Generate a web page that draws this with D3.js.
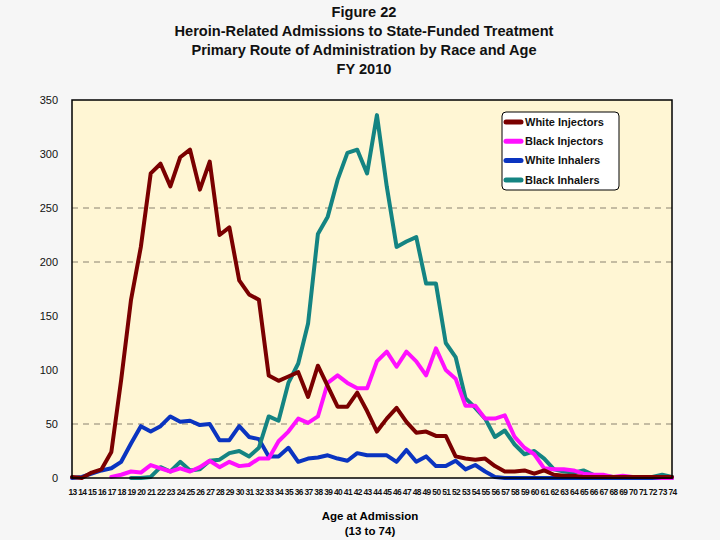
<!DOCTYPE html>
<html>
<head>
<meta charset="utf-8">
<script src="https://cdn.jsdelivr.net/npm/d3@7"></script>
<style>
  body { margin: 0; background: #f6f6f6; }
  svg { display: block; font-family: "Liberation Sans", Arial, sans-serif; }
</style>
</head>
<body>
<svg id="chart" width="720" height="540"></svg>
<script>
// data, ages 13..74
const ages = d3.range(13, 75);
const titleLines = ["Figure 22",
    "Heroin-Related Admissions to State-Funded Treatment",
    "Primary Route of Administration by Race and Age",
    "FY 2010"];
const seriesNames = ["White Injectors", "Black Injectors", "White Inhalers", "Black Inhalers"];
const seriesColors = ["#7a0000", "#ff10ff", "#0a34c0", "#148482"];
const yTicks = [0, 50, 100, 150, 200, 250, 300, 350];
const gridValues = [50, 200, 250];

const whiteInjectors = [1, 0, 5, 8, 24, 91, 165, 214, 282, 291, 270, 297, 304, 267, 293, 225, 232, 183, 170, 165,
    95, 90, 94, 98, 75, 104, 85, 66, 66, 79, 62, 43, 55, 65, 52, 42, 43, 39, 39, 20,
    18, 17, 18, 11, 6, 6, 7, 4, 7, 3, 2, 2, 1, 1, 1, 1, 1, 1, 1, 1, 1, 1];
const blackInjectors = [null, null, null, null, 1, 3, 6, 5, 12, 9, 6, 9, 6, 10, 16, 10, 15, 11, 12, 18,
    18, 34, 43, 55, 51, 57, 88, 95, 88, 83, 83, 108, 117, 103, 117, 108, 95, 120, 100, 92,
    67, 67, 55, 55, 58, 38, 28, 22, 9, 8, 8, 7, 4, 3, 3, 1, 2, 1, 1, 1, 0, 0];
const whiteInhalers = [0, 1, 4, 7, 9, 15, 32, 48, 43, 48, 57, 52, 53, 49, 50, 35, 35, 48, 38, 36,
    20, 20, 28, 15, 18, 19, 21, 18, 16, 23, 21, 21, 21, 15, 26, 15, 20, 11, 11, 16,
    8, 12, 6, 1, 0, 0, 0, 0, 0, 0, 0, 0, 0, 0, 0, 0, 0, 0, 0, 0, 0, 0];
const blackInhalers = [null, null, null, null, null, null, 0, 0, 1, 10, 6, 15, 7, 8, 16, 17, 23, 25, 20, 28,
    57, 53, 88, 106, 143, 226, 242, 276, 301, 304, 282, 336, 270, 214, 219, 223, 180, 180, 125, 112,
    74, 65, 55, 38, 44, 31, 22, 25, 18, 8, 6, 5, 7, 3, 2, 1, 1, 1, 1, 1, 3, 1];

const seriesValues = [whiteInjectors, blackInjectors, whiteInhalers, blackInhalers];

const margin = { top: 100, left: 72, bottom: 62, right: 48 };
const width = 720, height = 540;

const svg = d3.select("#chart");

const x = d3.scalePoint()
    .domain(ages)
    .range([margin.left, width - margin.right]);

const y = d3.scaleLinear()
    .domain([0, 350])
    .range([height - margin.bottom, margin.top]);

// title
svg.append("g")
    .selectAll("text")
    .data(titleLines)
    .join("text")
    .attr("x", 364)
    .attr("y", (d, i) => 17 + i * 19)
    .attr("text-anchor", "middle")
    .attr("font-size", 14.6)
    .attr("font-weight", "bold")
    .attr("fill", "#111")
    .text(d => d);

// plot area
svg.append("rect")
    .attr("x", margin.left)
    .attr("y", margin.top)
    .attr("width", width - margin.left - margin.right)
    .attr("height", height - margin.top - margin.bottom)
    .attr("fill", "#fff6d4");

svg.append("g")
    .selectAll("line")
    .data(gridValues)
    .join("line")
    .attr("x1", margin.left)
    .attr("x2", width - margin.right)
    .attr("y1", d => y(d))
    .attr("y2", d => y(d))
    .attr("stroke", "#8a8270")
    .attr("stroke-width", 1)
    .attr("stroke-dasharray", "6,5");

// y axis
const yAxis = d3.axisLeft(y).tickValues(yTicks).tickSize(0).tickPadding(14);
svg.append("g")
    .attr("transform", `translate(${margin.left},0)`)
    .call(yAxis)
    .call(g => g.select(".domain").remove())
    .selectAll("text")
    .attr("font-size", 11)
    .attr("font-family", "Liberation Sans, Arial, sans-serif")
    .attr("fill", "#111");

// x axis labels
const xAxis = d3.axisBottom(x).tickSize(0).tickPadding(11);
svg.append("g")
    .attr("transform", `translate(0,${height - margin.bottom})`)
    .call(xAxis)
    .call(g => g.select(".domain").remove())
    .selectAll("text")
    .attr("font-size", 8.4)
    .attr("font-weight", "bold")
    .attr("letter-spacing", -0.6)
    .attr("font-family", "Liberation Sans, Arial, sans-serif")
    .attr("fill", "#111");

svg.append("text")
    .attr("x", 370)
    .attr("y", 520)
    .attr("text-anchor", "middle")
    .attr("font-size", 11.5)
    .attr("font-weight", "bold")
    .text("Age at Admission");
svg.append("text")
    .attr("x", 370)
    .attr("y", 535)
    .attr("text-anchor", "middle")
    .attr("font-size", 11.5)
    .attr("font-weight", "bold")
    .text("(13 to 74)");

// lines, drawn so white injectors end up on top
const line = d3.line()
    .defined(d => d[1] != null)
    .x(d => x(d[0]))
    .y(d => y(d[1]));

const drawOrder = [2, 3, 1, 0];
svg.append("g")
    .selectAll("path")
    .data(drawOrder)
    .join("path")
    .attr("d", k => line(ages.map((a, i) => [a, seriesValues[k][i]])))
    .attr("fill", "none")
    .attr("stroke", k => seriesColors[k])
    .attr("stroke-width", 4)
    .attr("stroke-linejoin", "round")
    .attr("stroke-linecap", "round");

// plot border
svg.append("rect")
    .attr("x", margin.left)
    .attr("y", margin.top)
    .attr("width", width - margin.left - margin.right)
    .attr("height", height - margin.top - margin.bottom)
    .attr("fill", "none")
    .attr("stroke", "#000")
    .attr("stroke-width", 1.5);

// legend
const legend = svg.append("g").attr("transform", "translate(502,112)");
legend.append("rect")
    .attr("width", 117)
    .attr("height", 78)
    .attr("rx", 4)
    .attr("fill", "#fff")
    .attr("stroke", "#000")
    .attr("stroke-width", 1);

const items = legend.selectAll("g.item")
    .data(seriesNames)
    .join("g")
    .attr("class", "item")
    .attr("transform", (d, i) => `translate(0,${10 + i * 19.3})`);

items.append("line")
    .attr("x1", 4)
    .attr("x2", 19)
    .attr("stroke", (d, i) => seriesColors[i])
    .attr("stroke-width", 5)
    .attr("stroke-linecap", "round");

items.append("text")
    .attr("x", 23)
    .attr("dy", "0.35em")
    .attr("font-size", 11)
    .attr("font-weight", "bold")
    .attr("fill", "#111")
    .text(d => d);
</script>
</body>
</html>
